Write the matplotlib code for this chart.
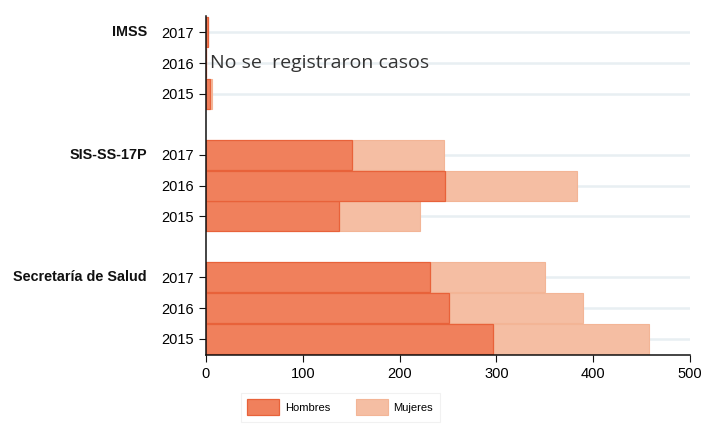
import numpy as np
import matplotlib.pyplot as plt
from matplotlib.transforms import blended_transform_factory

# data (cases by institution / year)
groups = ["Secretaría de Salud", "SIS-SS-17P", "IMSS"]
years = ["2015", "2016", "2017"]
hombres = {
    "Secretaría de Salud": [296, 251, 231],
    "SIS-SS-17P": [137, 247, 151],
    "IMSS": [4, 0, 2],
}
mujeres = {
    "Secretaría de Salud": [162, 138, 119],
    "SIS-SS-17P": [84, 136, 95],
    "IMSS": [2, 0, 0],
}

C_H = "#f0805c"
C_H_EDGE = "#e8623a"
C_M = "#f5bea3"
C_M_EDGE = "#f3b596"

plt.rcParams["font.family"] = ["Liberation Sans", "DejaVu Sans"]

fig = plt.figure(figsize=(7.03, 4.25), dpi=100)
ax = fig.add_axes([0.293, 0.165, 0.6885, 0.797])

# y positions: three rows per group, one empty row between groups
ypos, ylabels, h_vals, m_vals = [], [], [], []
for gi, g in enumerate(groups):
    for yi, yr in enumerate(years):
        ypos.append(gi * 4 + yi)
        ylabels.append(yr)
        h_vals.append(hombres[g][yi])
        m_vals.append(mujeres[g][yi])
ypos = np.array(ypos, dtype=float)
h_vals = np.array(h_vals, dtype=float)
m_vals = np.array(m_vals, dtype=float)

for y in ypos:
    ax.axhline(y, color="#e8eff2", linewidth=1.8, zorder=0)

ax.barh(ypos, m_vals, left=h_vals, height=0.98, color=C_M,
        edgecolor=C_M_EDGE, linewidth=0.8, label="Mujeres", zorder=2)
ax.barh(ypos, h_vals, height=0.98, color=C_H,
        edgecolor=C_H_EDGE, linewidth=0.9, label="Hombres", zorder=3)

ax.set_xlim(0, 500)
ax.set_ylim(-0.53, 10.53)
ax.set_xticks([0, 100, 200, 300, 400, 500])
ax.set_yticks(ypos)
ax.set_yticklabels(ylabels)
ax.tick_params(axis="both", labelsize=10.5, length=5, color="#111111")
ax.tick_params(axis="y", pad=4)
for s in ["top", "right"]:
    ax.spines[s].set_visible(False)
for s in ["left", "bottom"]:
    ax.spines[s].set_color("#111111")
    ax.spines[s].set_linewidth(1.1)
    ax.spines[s].set_zorder(5)

# group labels, next to the 2017 row
trans = blended_transform_factory(ax.transAxes, ax.transData)
for gi, g in enumerate(groups):
    ax.text(-0.122, gi * 4 + 2, g, transform=trans, ha="right", va="center",
            fontsize=10.4, fontweight="bold", color="#111111")

ax.text(4, 9, "No se  registraron casos", ha="left", va="center",
        fontsize=14, color="#333333", family=["Open Sans", "DejaVu Sans"],
        zorder=4)

handles, labels = ax.get_legend_handles_labels()
leg = fig.legend(handles[::-1], labels[::-1], loc="upper center",
                 bbox_to_anchor=(0.484, 0.089), ncol=2, fontsize=8,
                 frameon=True, fancybox=False, handlelength=2.9,
                 handleheight=1.8, handletextpad=0.5, columnspacing=2.3,
                 borderpad=0.6)
leg.get_frame().set_edgecolor("#eeeeee")
leg.get_frame().set_linewidth(0.8)

fig.savefig("out.png", dpi=100)
